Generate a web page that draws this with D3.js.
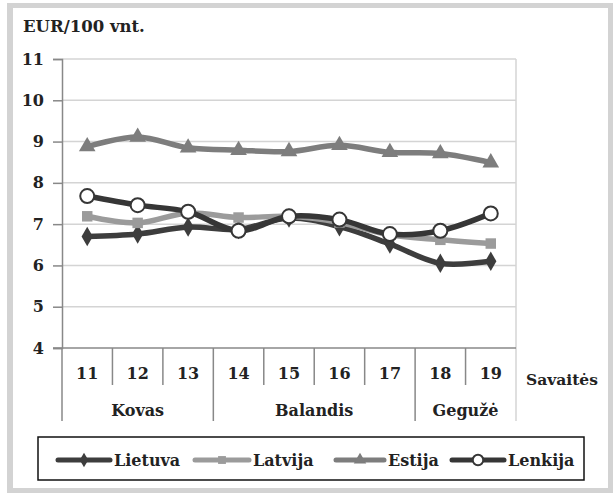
<!DOCTYPE html>
<html>
<head>
<script src="https://cdnjs.cloudflare.com/ajax/libs/d3/7.8.5/d3.min.js"></script>
<style>
  body { margin: 0; background: #fff; }
  svg text { font-family: "DejaVu Serif", "Liberation Serif", serif !important; font-weight: bold; fill: #222; }
</style>
</head>
<body>
<script>
var weeks = ["11", "12", "13", "14", "15", "16", "17", "18", "19"];
var months = [
  {name: "Kovas", from: 0, to: 3},
  {name: "Balandis", from: 3, to: 7},
  {name: "Gegužė", from: 7, to: 9}
];
var yTicks = [4, 5, 6, 7, 8, 9, 10, 11];

var lietuva = [6.70, 6.76, 6.93, 6.87, 7.15, 6.94, 6.52, 6.05, 6.10];
var latvija = [7.19, 7.03, 7.27, 7.16, 7.19, 7.04, 6.74, 6.62, 6.53];
var estija  = [8.88, 9.11, 8.85, 8.79, 8.76, 8.91, 8.74, 8.71, 8.49];
var lenkija = [7.68, 7.46, 7.30, 6.84, 7.19, 7.11, 6.76, 6.84, 7.26];

var series = [
  {name: "Lietuva", values: lietuva, color: "#3d3d3d", marker: "diamond"},
  {name: "Latvija", values: latvija, color: "#9b9b9b", marker: "square"},
  {name: "Estija", values: estija, color: "#7d7d7d", marker: "triangle"},
  {name: "Lenkija", values: lenkija, color: "#363636", marker: "circle"}
];

var width = 613, height = 493;
var svg = d3.select("body").append("svg")
  .attr("width", width)
  .attr("height", height);

// frame
svg.append("rect").attr("x", 7).attr("y", 3).attr("width", 606).attr("height", 490).attr("fill", "#d3d3d3");
svg.append("rect").attr("x", 13).attr("y", 8).attr("width", 595).attr("height", 480).attr("fill", "#fff");

var x = d3.scaleBand().domain(weeks).range([62, 516]);
var y = d3.scaleLinear().domain([4, 11]).range([348, 59]);

// title
svg.append("text").attr("x", 23).attr("y", 32).style("font-size", "16.5px").text("EUR/100 vnt.");

// grid
svg.append("g").selectAll("line").data(yTicks.slice(1)).enter().append("line")
  .attr("x1", 62).attr("x2", 516)
  .attr("y1", function(d) { return y(d); }).attr("y2", function(d) { return y(d); })
  .attr("stroke", "#d4d4d4").attr("stroke-width", 1.5);
// right border of plot
svg.append("line").attr("x1", 516).attr("x2", 516).attr("y1", y(11)).attr("y2", 421)
  .attr("stroke", "#d4d4d4").attr("stroke-width", 1.5);

// y axis
var yAxis = svg.append("g").attr("transform", "translate(62,0)")
  .call(d3.axisLeft(y).tickValues(yTicks).tickFormat(d3.format("d")).tickSize(9).tickPadding(9));
yAxis.select(".domain").attr("stroke", "#888").attr("stroke-width", 1.5);
yAxis.selectAll(".tick line").attr("stroke", "#888").attr("stroke-width", 1.5);
yAxis.selectAll("text").style("font-size", "16px");

// x axis baseline and separators
svg.append("line").attr("x1", 53).attr("x2", 516).attr("y1", 348).attr("y2", 348)
  .attr("stroke", "#888").attr("stroke-width", 1.5);
svg.append("line").attr("x1", 62).attr("x2", 62).attr("y1", 348).attr("y2", 421)
  .attr("stroke", "#888").attr("stroke-width", 1.5);

var monthEdges = months.map(function(m) { return m.from; }).slice(1);
svg.append("g").selectAll("line").data(weeks.slice(1)).enter().append("line")
  .attr("x1", function(d) { return x(d); }).attr("x2", function(d) { return x(d); })
  .attr("y1", 348)
  .attr("y2", function(d, i) { return monthEdges.indexOf(i + 1) >= 0 ? 421 : 385; })
  .attr("stroke", "#888").attr("stroke-width", 1.5);

svg.append("g").selectAll("text").data(weeks).enter().append("text")
  .attr("x", function(d) { return x(d) + x.bandwidth() / 2; })
  .attr("y", 379)
  .attr("text-anchor", "middle").style("font-size", "16px")
  .text(function(d) { return d; });

svg.append("g").selectAll("text").data(months).enter().append("text")
  .attr("x", function(d) { return (x(weeks[d.from]) + x(weeks[d.to - 1]) + x.bandwidth()) / 2; })
  .attr("y", 416)
  .attr("text-anchor", "middle").style("font-size", "16px")
  .text(function(d) { return d.name; });

svg.append("text").attr("x", 526).attr("y", 385).style("font-size", "15.5px").text("Savaitės");

// lines
var line = d3.line()
  .x(function(d, i) { return x(weeks[i]) + x.bandwidth() / 2; })
  .y(function(d) { return y(d); })
  .curve(d3.curveCatmullRom.alpha(0.5));

function marker(sel, type, color, s) {
  if (type === "circle") {
    sel.append("circle").attr("r", 7 * s).attr("fill", "#fff").attr("stroke", color).attr("stroke-width", 2);
  } else {
    var sym = type === "diamond" ? d3.symbolDiamond : type === "square" ? d3.symbolSquare : d3.symbolTriangle;
    var size = type === "diamond" ? 110 : type === "square" ? 110 : 120;
    sel.append("path").attr("d", d3.symbol().type(sym).size(size * s * s)).attr("fill", color);
  }
}

series.forEach(function(s) {
  svg.append("path").datum(s.values)
    .attr("d", line).attr("fill", "none")
    .attr("stroke", s.color).attr("stroke-width", 5.5);
  s.values.forEach(function(v, i) {
    var g = svg.append("g").attr("transform", "translate(" + (x(weeks[i]) + x.bandwidth() / 2) + "," + y(v) + ")");
    marker(g, s.marker, s.color, 1);
  });
});

// legend
svg.append("rect").attr("x", 38).attr("y", 437).attr("width", 546).attr("height", 43)
  .attr("fill", "#fff").attr("stroke", "#111").attr("stroke-width", 1.5);
var legLine = [58, 195, 336, 452];
var legText = [114, 253, 388, 508];
series.forEach(function(s, i) {
  var lx = legLine[i], lw = legText[i] - 4 - lx;
  svg.append("line").attr("x1", lx).attr("x2", lx + lw).attr("y1", 460).attr("y2", 460)
    .attr("stroke", s.color).attr("stroke-width", 5).attr("stroke-linecap", "round");
  var g = svg.append("g").attr("transform", "translate(" + (lx + lw / 2) + ",460)");
  marker(g, s.marker, s.color, 0.75);
  svg.append("text").attr("x", legText[i]).attr("y", 466).style("font-size", "16px").text(s.name);
});
</script>
</body>
</html>
